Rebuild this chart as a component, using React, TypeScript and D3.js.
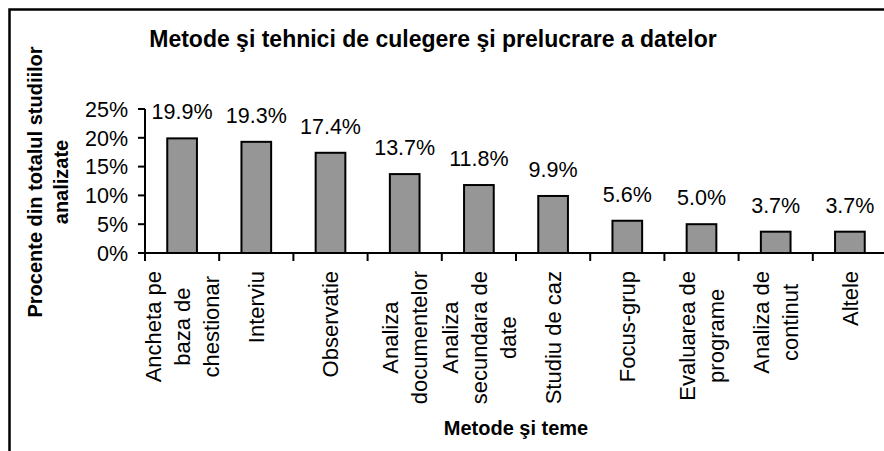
import { useMemo } from 'react';
import * as d3 from 'd3';

const categories = [
  ['Ancheta pe', 'baza de', 'chestionar'],
  ['Interviu'],
  ['Observatie'],
  ['Analiza', 'documentelor'],
  ['Analiza', 'secundara de', 'date'],
  ['Studiu de caz'],
  ['Focus-grup'],
  ['Evaluarea de', 'programe'],
  ['Analiza de', 'continut'],
  ['Altele'],
];
const values = [19.9, 19.3, 17.4, 13.7, 11.8, 9.9, 5.6, 5.0, 3.7, 3.7];
const yTicks = [0, 5, 10, 15, 20, 25];

const FONT = "'Liberation Sans', Arial, sans-serif";

function measure(text: string, font: string) {
  const ctx = document.createElement('canvas').getContext('2d');
  if (!ctx) return text.length * 10;
  ctx.font = font;
  return ctx.measureText(text).width;
}

export default function App() {
  const width = 884;
  const height = 451;
  const names = categories.map((c) => c.join(' '));

  const x = d3
    .scaleBand()
    .domain(names)
    .range([145, 887])
    .paddingInner(0.6)
    .paddingOuter(0.3);
  const y = d3.scaleLinear().domain([0, 25]).range([253, 109]);

  const step = x.step();
  const x0 = 145;
  const catFont = 22;
  const lineGap = 29;

  const blockLen = useMemo(
    () =>
      categories.map((lines) =>
        d3.max(lines, (l) => measure(l, `${catFont}px ${FONT}`)) || 0
      ),
    []
  );

  return (
    <div style={{ position: 'fixed', left: 0, top: 0 }}>
      <svg width={width} height={height} style={{ display: 'block', fontFamily: FONT }}>
        <rect x={0} y={0} width={width} height={height} fill="#fff" />
        <rect x={9.5} y={9.5} width={920} height={480} fill="none" stroke="#000" strokeWidth={2.5} />

        <text x={433} y={47} textAnchor="middle" fontSize={23} fontWeight="bold">
          Metode şi tehnici de culegere şi prelucrare a datelor
        </text>

        {/* y axis title */}
        <g transform="translate(0, 182) rotate(-90)">
          <text x={0} y={42} textAnchor="middle" fontSize={20} fontWeight="bold">
            Procente din totalul studiilor
          </text>
          <text x={0} y={68} textAnchor="middle" fontSize={20} fontWeight="bold">
            analizate
          </text>
        </g>

        {/* bars */}
        {names.map((n, i) => (
          <rect
            key={n}
            x={x(n)}
            y={y(values[i])}
            width={x.bandwidth()}
            height={y(0) - y(values[i])}
            fill="#969696"
            stroke="#000"
            strokeWidth={2}
          />
        ))}

        {/* value labels */}
        {names.map((n, i) => (
          <text
            key={n}
            x={(x(n) || 0) + x.bandwidth() / 2}
            y={y(values[i]) - 19}
            textAnchor="middle"
            fontSize={21.5}
          >
            {values[i].toFixed(1)}%
          </text>
        ))}

        {/* y axis */}
        <line x1={145} x2={145} y1={y(25)} y2={y(0)} stroke="#000" strokeWidth={2} />
        {yTicks.map((t) => (
          <g key={t}>
            <line x1={138} x2={145} y1={y(t)} y2={y(t)} stroke="#000" strokeWidth={2} />
            <text x={128} y={y(t)} dy="0.36em" textAnchor="end" fontSize={21.5}>
              {t}%
            </text>
          </g>
        ))}

        {/* x axis */}
        <line x1={144} x2={890} y1={y(0)} y2={y(0)} stroke="#000" strokeWidth={2} />
        {names.map((n, i) => (
          <line
            key={n}
            x1={x0 + i * step}
            x2={x0 + i * step}
            y1={y(0)}
            y2={y(0) + 8}
            stroke="#000"
            strokeWidth={2}
          />
        ))}

        {/* category labels */}
        {categories.map((lines, i) => {
          const cx = (x(names[i]) || 0) + x.bandwidth() / 2;
          const cy = 271 + blockLen[i] / 2;
          return (
            <g key={i} transform={`translate(${cx}, ${cy}) rotate(-90)`}>
              {lines.map((l, j) => (
                <text
                  key={j}
                  x={0}
                  y={(j - (lines.length - 1) / 2) * lineGap}
                  dy="0.36em"
                  textAnchor="middle"
                  fontSize={catFont}
                >
                  {l}
                </text>
              ))}
            </g>
          );
        })}

        <text x={516} y={435} textAnchor="middle" fontSize={20} fontWeight="bold">
          Metode şi teme
        </text>
      </svg>
    </div>
  );
}
